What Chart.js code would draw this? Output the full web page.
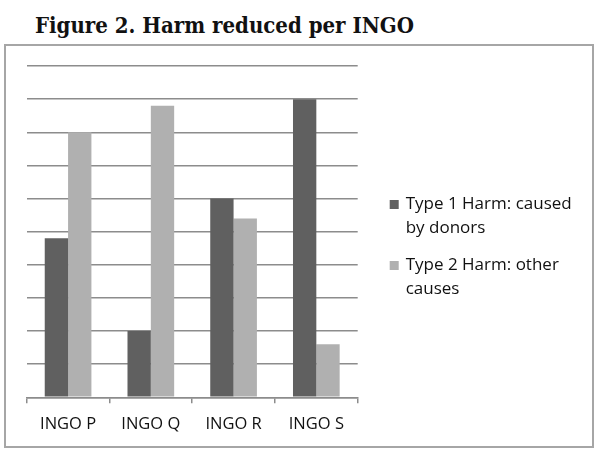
<!DOCTYPE html>
<html>
<head>
<meta charset="utf-8">
<script src="https://cdn.jsdelivr.net/npm/chart.js@4"></script>
<style>
    body { margin: 0; background: #fff; width: 601px; height: 458px; position: relative; overflow: hidden; }
    #title { position: absolute; left: 35px; top: 12px; font-family: "DejaVu Serif Condensed", "DejaVu Serif", serif; font-stretch: condensed; font-weight: bold; font-size: 22px; color: #111; white-space: nowrap; }
    #box { position: absolute; left: 4px; top: 44px; width: 586px; height: 400px; border: 2px solid #a6a6a6; }
    #wrap { position: relative; width: 586px; height: 400px; }
</style>
</head>
<body>
<div id="title">Figure 2. Harm reduced per INGO</div>
<div id="box"><div id="wrap"><canvas id="harm-chart"></canvas></div></div>
<script>
const categories = ['INGO P', 'INGO Q', 'INGO R', 'INGO S'];
const type1Values = [4.8, 2.0, 6.0, 9.0];
const type2Values = [8.0, 8.8, 5.4, 1.6];
const seriesLabels = [
    ['Type 1 Harm: caused', 'by donors'],
    ['Type 2 Harm: other', 'causes']
];
const seriesColors = ['#606060', '#b0b0b0'];

// legend drawn by hand so the labels can wrap onto two lines
const wrapLegend = {
    id: 'wrapLegend',
    afterDraw(chart) {
        const ctx = chart.ctx;
        const x = chart.chartArea.right + 32;
        let y = 158;
        ctx.save();
        ctx.font = '17px "Open Sans"';
        ctx.textBaseline = 'middle';
        chart.data.datasets.forEach((ds) => {
            ctx.fillStyle = ds.backgroundColor;
            ctx.fillRect(x, y - 4, 9, 9);
            ctx.fillStyle = '#111';
            ds.legendLines.forEach((line, i) => {
                ctx.fillText(line, x + 16, y + i * 24);
            });
            y += ds.legendLines.length * 24 + 13;
        });
        ctx.restore();
    }
};

const chart = new Chart(document.getElementById('harm-chart'), {
    type: 'bar',
    data: {
        labels: categories,
        datasets: [
            { label: 'Type 1 Harm: caused by donors', legendLines: seriesLabels[0], data: type1Values, backgroundColor: seriesColors[0] },
            { label: 'Type 2 Harm: other causes', legendLines: seriesLabels[1], data: type2Values, backgroundColor: seriesColors[1] }
        ]
    },
    options: {
        responsive: true,
        maintainAspectRatio: false,
        animation: false,
        datasets: {
            bar: { categoryPercentage: 0.564, barPercentage: 1.0 }
        },
        layout: {
            padding: { left: 20.7, top: 20, right: 234.3, bottom: 0 }
        },
        plugins: {
            legend: { display: false },
            tooltip: { enabled: false }
        },
        scales: {
            y: {
                min: 0,
                max: 10,
                ticks: { display: false, stepSize: 1 },
                grid: { color: '#8c8c8c', lineWidth: 1.5, drawTicks: false },
                border: { display: false },
                afterFit: (scale) => { scale.width = 0; }
            },
            x: {
                grid: { display: true, offset: true, drawOnChartArea: false, tickLength: 6, color: '#8c8c8c', lineWidth: 1.5 },
                border: { color: '#8c8c8c', width: 1.5 },
                ticks: { color: '#111', font: { family: '"Open Sans"', size: 16.5 }, padding: 11 },
                afterFit: (scale) => { scale.height = 48.7; }
            }
        }
    },
    plugins: [wrapLegend]
});
</script>
</body>
</html>
